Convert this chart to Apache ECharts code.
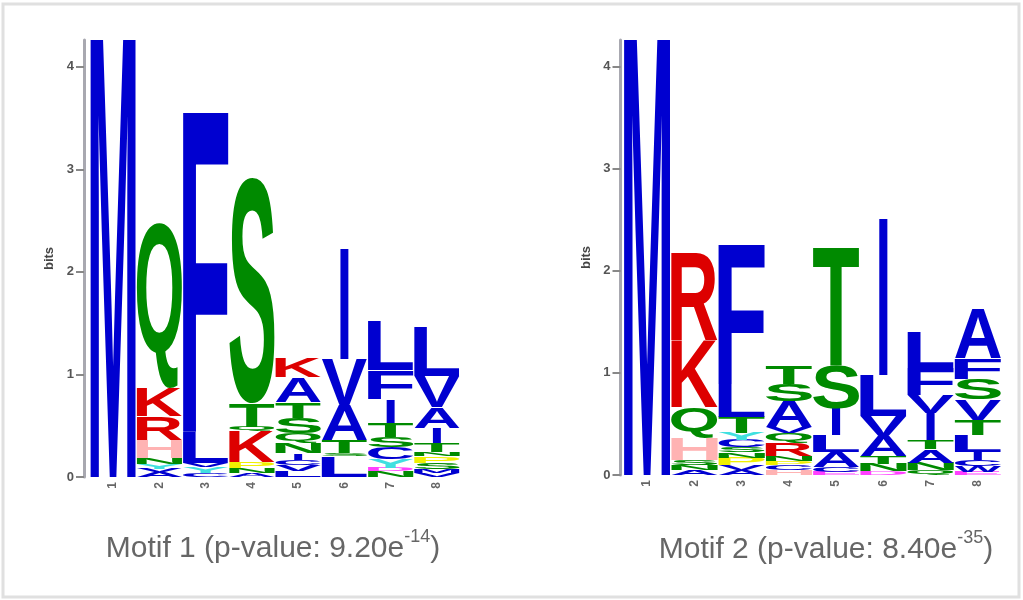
<!DOCTYPE html>
<html>
<head>
<meta charset="utf-8">
<title>Sequence logos</title>
<script src="https://cdn.jsdelivr.net/npm/echarts@6/dist/echarts.min.js"></script>
<style>
  html, body { margin: 0; padding: 0; background: #ffffff; }
  #chart { width: 1023px; height: 600px; }
</style>
</head>
<body>
<div id="chart"></div>
<script>
// Positions along each motif (x-axis tick labels)
const positions = ['1', '2', '3', '4', '5', '6', '7', '8'];
// Y-axis ticks, in bits
const bitTicks = [0, 1, 2, 3, 4];
const bitsMax = 4.26;

// Motif 1: each column lists [residue, information in bits], stacked bottom to top
const motif1Columns = [
  [['M', 4.32]],
  [['A', 0.05], ['V', 0.03], ['Y', 0.05], ['N', 0.06], ['H', 0.17], ['R', 0.23], ['K', 0.28], ['Q', 1.61]],
  [['C', 0.04], ['Y', 0.06], ['V', 0.04], ['L', 0.30], ['F', 3.14]],
  [['A', 0.04], ['N', 0.05], ['P', 0.06], ['K', 0.30], ['Q', 0.04], ['T', 0.23], ['S', 2.20]],
  [['L', 0.06], ['V', 0.06], ['C', 0.05], ['I', 0.06], ['N', 0.10], ['Q', 0.10], ['S', 0.15], ['T', 0.15], ['A', 0.24], ['K', 0.19]],
  [['L', 0.20], ['S', 0.03], ['T', 0.13], ['A', 0.34], ['V', 0.45], ['I', 1.08]],
  [['N', 0.06], ['D', 0.03], ['Y', 0.08], ['C', 0.12], ['S', 0.10], ['T', 0.14], ['I', 0.23], ['F', 0.28], ['L', 0.47]],
  [['V', 0.04], ['M', 0.04], ['S', 0.06], ['P', 0.06], ['N', 0.04], ['T', 0.09], ['I', 0.15], ['A', 0.20], ['V', 0.30], ['L', 0.48]]
];

// Motif 2
const motif2Columns = [
  [['M', 4.32]],
  [['A', 0.05], ['N', 0.05], ['S', 0.05], ['H', 0.22], ['Q', 0.30], ['K', 0.65], ['R', 0.86]],
  [['A', 0.05], ['V', 0.05], ['P', 0.07], ['N', 0.05], ['S', 0.05], ['C', 0.07], ['Y', 0.07], ['T', 0.16], ['L', 0.32], ['F', 1.38]],
  [['H', 0.05], ['C', 0.05], ['P', 0.04], ['N', 0.05], ['R', 0.12], ['Q', 0.10], ['V', 0.06], ['A', 0.25], ['S', 0.17], ['T', 0.17]],
  [['E', 0.03], ['C', 0.05], ['A', 0.15], ['L', 0.16], ['I', 0.26], ['S', 0.42], ['T', 1.16]],
  [['D', 0.04], ['N', 0.07], ['T', 0.07], ['A', 0.20], ['V', 0.20], ['L', 0.40], ['I', 1.54]],
  [['Q', 0.05], ['N', 0.07], ['A', 0.13], ['T', 0.09], ['I', 0.27], ['V', 0.17], ['F', 0.27], ['L', 0.35]],
  [['E', 0.03], ['W', 0.06], ['C', 0.06], ['I', 0.08], ['L', 0.16], ['T', 0.15], ['V', 0.20], ['S', 0.20], ['F', 0.20], ['A', 0.48]]
];

// Captions: [prefix, exponent, suffix]
const motif1Caption = ['Motif 1 (p-value: 9.20e', '-14', ')'];
const motif2Caption = ['Motif 2 (p-value: 8.40e', '-35', ')'];

// Residue colours by chemical class
const residueColors = {
  A: '#0000d0', C: '#0000d0', F: '#0000d0', I: '#0000d0', L: '#0000d0', M: '#0000d0', V: '#0000d0', W: '#0000d0',
  N: '#008a00', Q: '#008a00', S: '#008a00', T: '#008a00',
  K: '#dd0000', R: '#dd0000',
  H: '#ffb3b3',
  D: '#ff40ff', E: '#ff40ff',
  G: '#ffb300',
  P: '#f0f000',
  Y: '#40e0e0'
};

const GLYPH_FONT = 'bold 200px "Liberation Sans"';

// Ink bounds of each glyph relative to a left/middle anchor, so letters can be stretched to fill a cell
const glyphCache = {};
const measureCtx = document.createElement('canvas').getContext('2d');
function glyphBox(ch) {
  if (glyphCache[ch]) return glyphCache[ch];
  measureCtx.font = GLYPH_FONT;
  measureCtx.textAlign = 'left';
  measureCtx.textBaseline = 'middle';
  const m = measureCtx.measureText(ch);
  let box;
  if (m.actualBoundingBoxAscent !== undefined) {
    box = { l: -m.actualBoundingBoxLeft, r: m.actualBoundingBoxRight, a: m.actualBoundingBoxAscent, d: m.actualBoundingBoxDescent };
  } else {
    box = { l: 0, r: m.width, a: 72, d: 72 };
  }
  glyphCache[ch] = box;
  return box;
}

// Cumulative stack segments: [column, lower bits, upper bits, residue code]
function stackData(columns) {
  const out = [];
  columns.forEach(function (col, i) {
    let base = 0;
    col.forEach(function (entry) {
      out.push([i, base, base + entry[1], entry[0].charCodeAt(0)]);
      base += entry[1];
    });
  });
  return out;
}

function renderLetter(params, api) {
  const col = api.value(0);
  const lo = api.value(1);
  const hi = api.value(2);
  const ch = String.fromCharCode(api.value(3));
  const pBottom = api.coord([col, lo]);
  const pTop = api.coord([col, hi]);
  const band = api.size([1, 0])[0];
  const h = pBottom[1] - pTop[1];
  if (h < 0.2) return null;
  const w = (ch === 'I' ? 0.2 : 1) * band - 1;
  const g = glyphBox(ch);
  const sx = w / (g.r - g.l);
  const sy = h / (g.a + g.d);
  const left = pBottom[0] - w / 2;
  return {
    type: 'text',
    x: left - g.l * sx,
    y: pTop[1] + g.a * sy,
    scaleX: sx,
    scaleY: sy,
    style: {
      text: ch,
      x: 0,
      y: 0,
      font: GLYPH_FONT,
      fill: residueColors[ch] || '#888888',
      align: 'left',
      verticalAlign: 'middle',
      textAlign: 'left',
      textVerticalAlign: 'middle'
    }
  };
}

function xAxisFor(gridIndex) {
  return {
    type: 'category',
    gridIndex: gridIndex,
    data: positions,
    boundaryGap: true,
    axisLine: { show: false },
    axisTick: { show: false },
    axisLabel: { rotate: 90, fontSize: 12, color: '#666', margin: 5, fontFamily: 'Liberation Sans', fontWeight: 'bold' }
  };
}

function yAxisFor(gridIndex, offset) {
  return {
    type: 'value',
    gridIndex: gridIndex,
    min: 0,
    max: bitsMax,
    interval: 1,
    offset: offset,
    name: 'bits',
    nameLocation: 'middle',
    nameRotate: 90,
    nameGap: 28,
    nameTextStyle: { fontSize: 13, color: '#444', fontFamily: 'Liberation Sans', fontWeight: 'bold' },
    axisLine: { show: true, lineStyle: { color: '#a8a8b0', width: 3 } },
    axisTick: { show: true, length: 8, customValues: bitTicks, lineStyle: { color: '#888', width: 2 } },
    axisLabel: { customValues: bitTicks, fontSize: 13, color: '#555', margin: 10, fontFamily: 'Liberation Sans', fontWeight: 'bold' },
    splitLine: { show: false }
  };
}

function caption(parts, cx, cy) {
  return {
    type: 'text',
    x: cx,
    y: cy,
    style: {
      text: '{m|' + parts[0] + '}{s|' + parts[1] + '}{m|' + parts[2] + '}',
      align: 'center',
      verticalAlign: 'middle',
      rich: {
        m: { fontSize: 30, fontFamily: 'Liberation Sans', fill: '#666666', lineHeight: 36, verticalAlign: 'bottom' },
        s: { fontSize: 18, fontFamily: 'Liberation Sans', fill: '#666666', lineHeight: 36, verticalAlign: 'top' }
      }
    }
  };
}

const chart = echarts.init(document.getElementById('chart'), null, { renderer: 'canvas' });
chart.setOption({
  animation: false,
  backgroundColor: '#ffffff',
  grid: [
    { left: 90, top: 40, width: 370, height: 437 },
    { left: 623.5, top: 40, width: 378, height: 435 }
  ],
  xAxis: [xAxisFor(0), xAxisFor(1)],
  yAxis: [yAxisFor(0, 6), yAxisFor(1, 3)],
  series: [
    { type: 'custom', xAxisIndex: 0, yAxisIndex: 0, clip: true, renderItem: renderLetter, data: stackData(motif1Columns) },
    { type: 'custom', xAxisIndex: 1, yAxisIndex: 1, clip: true, renderItem: renderLetter, data: stackData(motif2Columns) }
  ],
  graphic: [
    { type: 'rect', shape: { x: 3, y: 4, width: 1016, height: 593 }, style: { fill: 'none', stroke: '#e0e0e0', lineWidth: 3 } },
    caption(motif1Caption, 273, 546),
    caption(motif2Caption, 826, 547)
  ]
});
</script>
</body>
</html>
